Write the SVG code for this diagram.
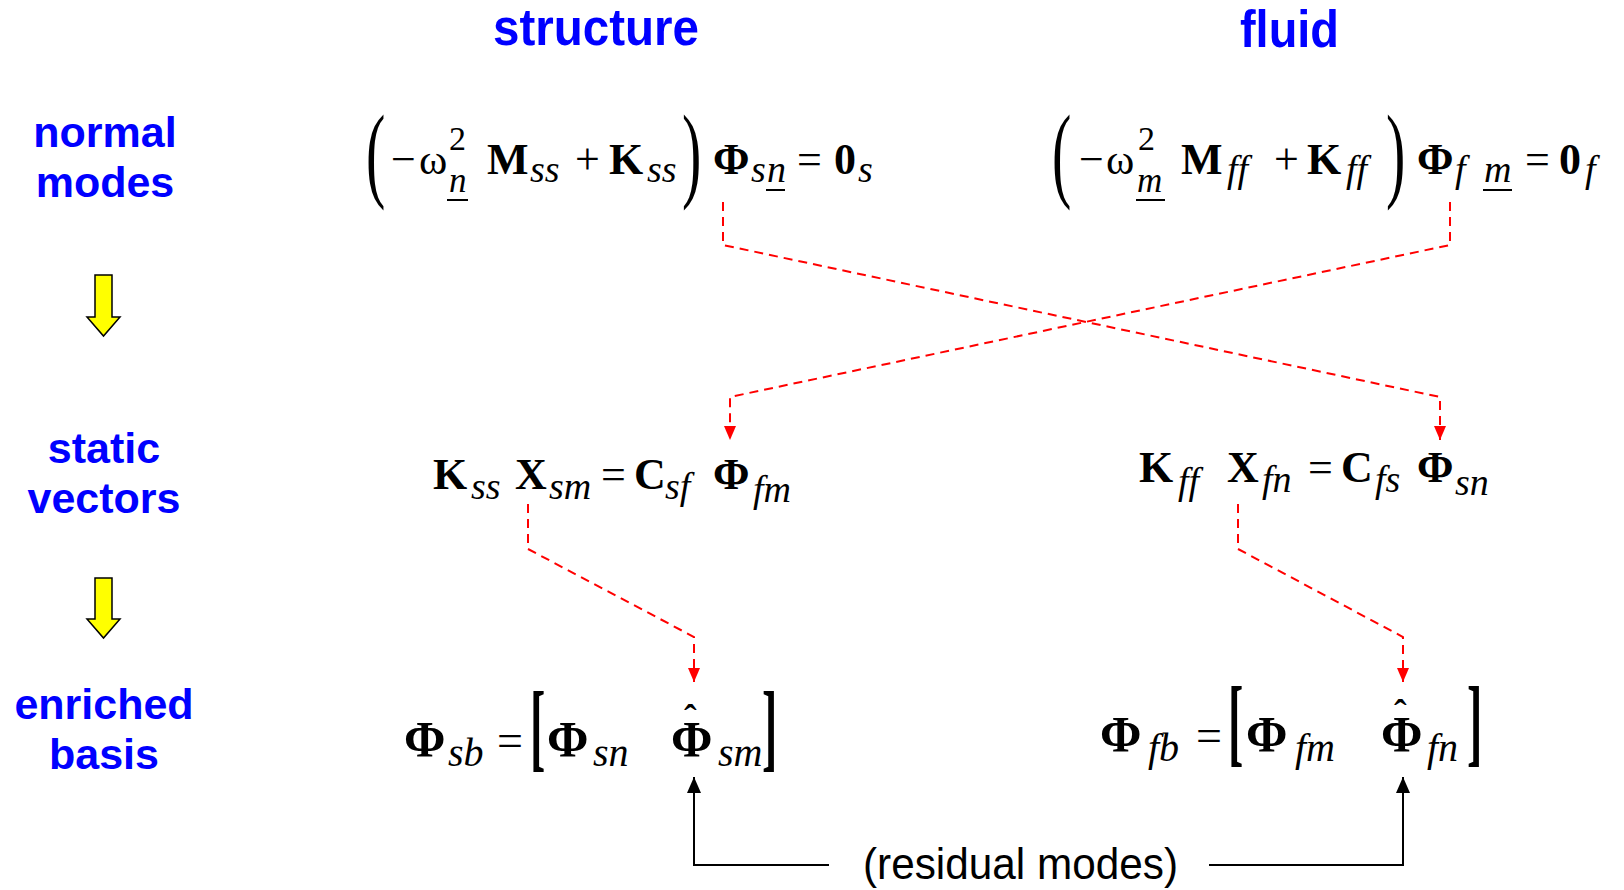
<svg xmlns="http://www.w3.org/2000/svg" width="1624" height="890" viewBox="0 0 1624 890">
<style>
.lbl{font-family:"Liberation Sans",Arial,sans-serif;font-weight:bold;fill:#0000FF;font-size:43px;text-anchor:middle}
.ttl{font-family:"Liberation Sans",Arial,sans-serif;font-weight:bold;fill:#0000FF;font-size:52px}
.r{font-family:"Liberation Serif","Times New Roman",serif;font-size:44px;fill:#000}
.b{font-family:"Liberation Serif","Times New Roman",serif;font-weight:bold;font-size:44px;fill:#000}
.B{font-family:"Liberation Serif","Times New Roman",serif;font-weight:bold;font-size:50px;fill:#000}
.i{font-family:"Liberation Serif","Times New Roman",serif;font-style:italic;font-size:38px;fill:#000}
.sup{font-family:"Liberation Serif","Times New Roman",serif;font-size:34px;fill:#000}
.ul{stroke:#000;stroke-width:2}
.dash{fill:none;stroke:#FF0000;stroke-width:2;stroke-dasharray:9 6;marker-end:url(#ra)}
.solid{fill:none;stroke:#000;stroke-width:2;marker-end:url(#ba)}
.yel{fill:#FFFF00;stroke:#000;stroke-width:1.5}
.res{font-family:"Liberation Sans",Arial,sans-serif;font-size:44px;fill:#000}
</style>
<defs>
<marker id="ra" viewBox="0 0 14 12" refX="14" refY="6" markerWidth="14" markerHeight="12" orient="auto" markerUnits="userSpaceOnUse"><path d="M0,0 L14,6 L0,12 z" fill="#FF0000"/></marker>
<marker id="ba" viewBox="0 0 16 14" refX="16" refY="7" markerWidth="16" markerHeight="14" orient="auto" markerUnits="userSpaceOnUse"><path d="M0,0 L16,7 L0,14 z" fill="#000"/></marker>
</defs>
<rect width="1624" height="890" fill="#fff"/>

<g id="titles">
<text class="ttl" x="493" y="45" textLength="206" lengthAdjust="spacingAndGlyphs">structure</text>
<text class="ttl" x="1240" y="47" textLength="99" lengthAdjust="spacingAndGlyphs">fluid</text>
</g>

<g id="row-labels">
<text class="lbl" x="105" y="147">normal</text>
<text class="lbl" x="105" y="197">modes</text>
<text class="lbl" x="104" y="463">static</text>
<text class="lbl" x="104" y="513">vectors</text>
<text class="lbl" x="104" y="719">enriched</text>
<text class="lbl" x="104" y="769">basis</text>
</g>

<g id="stage-arrows">
<path class="yel" d="M95,275 H112 V317 H120 L103.5,336 L87,317 H95 Z"/>
<path class="yel" d="M95,578 H112 V619 H120 L103.5,638 L87,619 H95 Z"/>
</g>

<g id="eq-structure-normal">
<text class="r" transform="translate(366,188) scale(1,1.84)" style="font-size:58px">(</text>
<text class="r" x="391" y="174">−</text>
<text class="r" x="419" y="174" style="font-size:43px">ω</text>
<text class="sup" x="449" y="150">2</text>
<text class="i" x="449" y="192" style="font-size:35px">n</text>
<line class="ul" x1="447" y1="200" x2="468" y2="200"/>
<text class="b" x="487" y="174">M</text>
<text class="i" x="530" y="182">ss</text>
<text class="r" x="575" y="174">+</text>
<text class="b" x="609" y="174">K</text>
<text class="i" x="647" y="182">ss</text>
<text class="r" transform="translate(682,188) scale(1,1.84)" style="font-size:58px">)</text>
<text class="b" x="713" y="174">Φ</text>
<text class="i" x="751" y="182">s</text>
<text class="i" x="767" y="182">n</text>
<line class="ul" x1="766" y1="190" x2="785" y2="190"/>
<text class="r" x="797" y="174">=</text>
<text class="b" x="834" y="174">0</text>
<text class="i" x="858" y="182">s</text>
</g>

<g id="eq-fluid-normal">
<text class="r" transform="translate(1052,188) scale(1,1.84)" style="font-size:58px">(</text>
<text class="r" x="1079" y="174">−</text>
<text class="r" x="1106" y="174" style="font-size:43px">ω</text>
<text class="sup" x="1138" y="150">2</text>
<text class="i" x="1137" y="192" style="font-size:35px">m</text>
<line class="ul" x1="1136" y1="200" x2="1165" y2="200"/>
<text class="b" x="1181" y="174">M</text>
<text class="i" x="1227" y="182">ff</text>
<text class="r" x="1274" y="174">+</text>
<text class="b" x="1307" y="174">K</text>
<text class="i" x="1346" y="182">ff</text>
<text class="r" transform="translate(1386,188) scale(1,1.84)" style="font-size:58px">)</text>
<text class="b" x="1417" y="174">Φ</text>
<text class="i" x="1455" y="182">f</text>
<text class="i" x="1484" y="182">m</text>
<line class="ul" x1="1483" y1="190" x2="1512" y2="190"/>
<text class="r" x="1525" y="174">=</text>
<text class="b" x="1559" y="174">0</text>
<text class="i" x="1585" y="182">f</text>
</g>

<g id="eq-structure-static">
<text class="b" x="433" y="489">K</text>
<text class="i" x="471" y="499">ss</text>
<text class="b" x="515" y="489">X</text>
<text class="i" x="549" y="499">sm</text>
<text class="r" x="601" y="489">=</text>
<text class="b" x="634" y="489">C</text>
<text class="i" x="665" y="499">sf</text>
<text class="b" x="713" y="489">Φ</text>
<text class="i" x="753" y="502">fm</text>
</g>

<g id="eq-fluid-static">
<text class="b" x="1139" y="482">K</text>
<text class="i" x="1178" y="494">ff</text>
<text class="b" x="1227" y="482">X</text>
<text class="i" x="1262" y="492">fn</text>
<text class="r" x="1308" y="482">=</text>
<text class="b" x="1341" y="482">C</text>
<text class="i" x="1375" y="492">fs</text>
<text class="b" x="1417" y="482">Φ</text>
<text class="i" x="1455" y="495">sn</text>
</g>

<g id="eq-structure-enriched">
<text class="B" x="404" y="756">Φ</text>
<text class="i" x="448" y="766" style="font-size:40px">sb</text>
<text class="r" x="497" y="756" style="font-size:46px">=</text>
<text class="b" transform="translate(530,759) scale(1,2.1)" style="font-size:46px">[</text>
<text class="B" x="547" y="756">Φ</text>
<text class="i" x="593" y="766" style="font-size:40px">sn</text>
<text class="B" x="671" y="756">Φ<tspan x="684" y="731" style="font-size:38px">ˆ</tspan></text>
<text class="i" x="718" y="766" style="font-size:40px">sm</text>
<text class="b" transform="translate(762,759) scale(1,2.1)" style="font-size:46px">]</text>
</g>

<g id="eq-fluid-enriched">
<text class="B" x="1100" y="751">Φ</text>
<text class="i" x="1148" y="761" style="font-size:40px">fb</text>
<text class="r" x="1196" y="751" style="font-size:46px">=</text>
<text class="b" transform="translate(1228,754) scale(1,2.1)" style="font-size:46px">[</text>
<text class="B" x="1246" y="751">Φ</text>
<text class="i" x="1295" y="761" style="font-size:40px">fm</text>
<text class="B" x="1381" y="751">Φ<tspan x="1394" y="726" style="font-size:38px">ˆ</tspan></text>
<text class="i" x="1427" y="761" style="font-size:40px">fn</text>
<text class="b" transform="translate(1467,754) scale(1,2.1)" style="font-size:46px">]</text>
</g>

<g id="residual-label">
<text class="res" x="863" y="879" textLength="315" lengthAdjust="spacingAndGlyphs">(residual modes)</text>
</g>

<g id="connectors">
<path class="dash" d="M723,202 V245 L1440,397 V440"/>
<path class="dash" d="M1450,202 V245 L730,397 V440"/>
<path class="dash" d="M528,504 V549 L694,637 V682"/>
<path class="dash" d="M1238,504 V549 L1403,637 V682"/>
<path class="solid" d="M829,865 H694 V777"/>
<path class="solid" d="M1209,865 H1403 V777"/>
</g>
</svg>
